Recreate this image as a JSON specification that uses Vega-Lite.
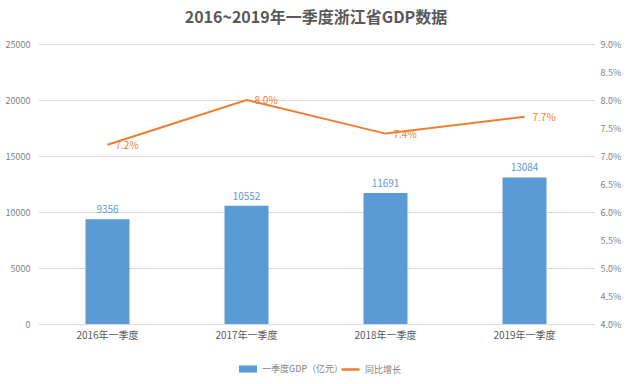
{
  "$schema": "https://vega.github.io/schema/vega-lite/v6.json",
  "autosize": {"type": "none"},
  "width": 556,
  "height": 280,
  "padding": {"left": 38, "top": 44, "right": 46, "bottom": 60},
  "background": "white",
  "config": {
    "font": "Noto Sans CJK SC",
    "view": {"stroke": null},
    "axis": {"labelFont": "Noto Sans CJK SC", "labelColor": "#7f7f7f", "labelFontSize": 9, "domain": false, "ticks": false}
  },
  "title": {
    "text": "2016~2019年一季度浙江省GDP数据",
    "font": "Noto Sans CJK SC",
    "fontSize": 16,
    "fontWeight": "bold",
    "color": "#595959",
    "anchor": "middle",
    "offset": 14
  },
  "data": {
    "values": [
      {"q": "2016年一季度", "gdp": 9356, "growth": 0.072, "s1": "一季度GDP（亿元）", "s2": "同比增长"},
      {"q": "2017年一季度", "gdp": 10552, "growth": 0.080, "s1": "一季度GDP（亿元）", "s2": "同比增长"},
      {"q": "2018年一季度", "gdp": 11691, "growth": 0.074, "s1": "一季度GDP（亿元）", "s2": "同比增长"},
      {"q": "2019年一季度", "gdp": 13084, "growth": 0.077, "s1": "一季度GDP（亿元）", "s2": "同比增长"}
    ]
  },
  "encoding": {
    "x": {
      "field": "q", "type": "nominal", "sort": null,
      "scale": {"paddingInner": 0, "paddingOuter": 0},
      "axis": {"title": null, "labelAngle": 0, "labelPadding": 6, "labelFontSize": 10, "labelColor": "#595959", "grid": false}
    }
  },
  "layer": [
    {
      "encoding": {
        "y": {
          "field": "gdp", "type": "quantitative",
          "scale": {"domain": [0, 25000]},
          "axis": {"title": null, "orient": "left", "format": "d", "values": [0, 5000, 10000, 15000, 20000, 25000], "grid": true, "gridColor": "#d9d9d9", "labelPadding": 8}
        }
      },
      "layer": [
        {
          "mark": {"type": "bar", "size": 44},
          "encoding": {
            "color": {
              "field": "s1", "type": "nominal",
              "scale": {"range": ["#5b9bd5"]},
              "legend": {"title": null, "orient": "none", "legendX": 200, "legendY": 315, "symbolType": "M-1,-0.4H1V0.4H-1Z", "symbolSize": 324, "labelFontSize": 9, "labelColor": "#7f7f7f", "labelFont": "Noto Sans CJK SC"}
            }
          }
        },
        {
          "mark": {"type": "text", "dy": -9, "fontSize": 10, "color": "#5b9bd5"},
          "encoding": {"text": {"field": "gdp", "type": "quantitative", "format": "d"}}
        }
      ]
    },
    {
      "encoding": {
        "y": {
          "field": "growth", "type": "quantitative",
          "scale": {"domain": [0.04, 0.09]},
          "axis": {"title": null, "orient": "right", "format": ".1%", "values": [0.04, 0.045, 0.05, 0.055, 0.06, 0.065, 0.07, 0.075, 0.08, 0.085, 0.09], "grid": false, "labelPadding": 6}
        }
      },
      "layer": [
        {
          "mark": {"type": "line", "strokeWidth": 2},
          "encoding": {
            "color": {
              "field": "s2", "type": "nominal",
              "scale": {"range": ["#ed7d31"]},
              "legend": {"title": null, "orient": "none", "legendX": 302, "legendY": 315, "symbolType": "stroke", "symbolSize": 324, "symbolStrokeWidth": 2.5, "labelFontSize": 9, "labelColor": "#7f7f7f", "labelFont": "Noto Sans CJK SC"}
            }
          }
        },
        {
          "mark": {"type": "text", "align": "left", "baseline": "middle", "dx": 8, "dy": 1, "fontSize": 10, "color": "#ed7d31"},
          "encoding": {"text": {"field": "growth", "type": "quantitative", "format": ".1%"}}
        }
      ]
    }
  ],
  "resolve": {"scale": {"y": "independent", "color": "independent"}, "axis": {"y": "independent"}}
}
